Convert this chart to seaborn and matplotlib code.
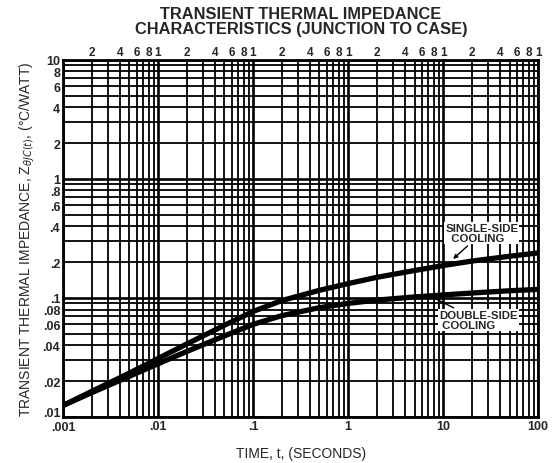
import numpy as np
import pandas as pd
import matplotlib
matplotlib.use("Agg")
import matplotlib.pyplot as plt
import matplotlib.transforms as mtransforms
from matplotlib.ticker import FixedLocator, FixedFormatter
import seaborn as sns

# ---- data ----
time_s = [0.001, 0.002, 0.005, 0.01, 0.02, 0.05, 0.1, 0.2, 0.5, 1, 2, 5, 10, 20, 50, 100]
single_side = [0.0125, 0.0164, 0.0234, 0.031, 0.041, 0.059, 0.077, 0.095, 0.116, 0.132, 0.149, 0.170, 0.187, 0.204, 0.224, 0.239]
double_side = [0.0125, 0.0160, 0.0220, 0.028, 0.0355, 0.048, 0.060, 0.071, 0.083, 0.090, 0.096, 0.102, 0.106, 0.110, 0.115, 0.118]

x_bottom_ticks = [0.001, 0.01, 0.1, 1, 10, 100]
x_bottom_labels = [".001", ".01", ".1", "1", "10", "100"]
y_ticks = [0.01, 0.02, 0.04, 0.06, 0.08, 0.1, 0.2, 0.4, 0.6, 0.8, 1, 2, 4, 6, 8, 10]
y_labels = [".01", ".02", ".04", ".06", ".08", ".1", ".2", ".4", ".6", ".8", "1", "2", "4", "6", "8", "10"]

df = pd.DataFrame({
    "t": time_s * 2,
    "z": single_side + double_side,
    "cooling": ["single"] * len(time_s) + ["double"] * len(time_s),
})

sns.set_style("white")
plt.rcParams['font.family'] = ['Liberation Sans', 'DejaVu Sans']

fig = plt.figure(figsize=(5.52, 4.64), dpi=100)
ax = fig.add_axes([0.114, 0.099, 0.861, 0.770])

ax.set_xscale("log")
ax.set_yscale("log")
ax.set_xlim(0.001, 100)
ax.set_ylim(0.01, 10)

# grid: all decades with minors 2..9
decades_x = [0.001, 0.01, 0.1, 1, 10]
xminor = [d * k for d in decades_x for k in range(2, 10)]
decades_y = [0.01, 0.1, 1]
yminor = [d * k for d in decades_y for k in range(2, 10)]

for v in xminor:
    ax.axvline(v, color="black", lw=1.3, zorder=1)
for v in x_bottom_ticks:
    ax.axvline(v, color="black", lw=1.9, zorder=1)
for v in yminor:
    ax.axhline(v, color="black", lw=1.3, zorder=1)
for v in [0.01, 0.1, 1, 10]:
    ax.axhline(v, color="black", lw=1.9, zorder=1)

sns.lineplot(data=df, x="t", y="z", hue="cooling", palette={"single": "black", "double": "black"},
             lw=3.8, legend=False, ax=ax, zorder=3)

for s in ax.spines.values():
    s.set_color("black")
    s.set_linewidth(2.0)

ax.xaxis.set_major_locator(FixedLocator(x_bottom_ticks))
ax.xaxis.set_major_formatter(FixedFormatter(x_bottom_labels))
ax.xaxis.set_minor_locator(FixedLocator([]))
ax.yaxis.set_major_locator(FixedLocator(y_ticks))
ax.yaxis.set_major_formatter(FixedFormatter(y_labels))
ax.yaxis.set_minor_locator(FixedLocator([]))
ax.tick_params(axis="both", length=0, labelsize=9, pad=2)
for lab in ax.get_xticklabels() + ax.get_yticklabels():
    lab.set_fontweight("bold")
# lift ".01" a bit so it does not sit on ".001"
first_y = ax.get_yticklabels()[0]
first_y.set_transform(first_y.get_transform() + mtransforms.ScaledTranslation(0, 4 / 72, fig.dpi_scale_trans))
first_x = ax.get_xticklabels()[0]
first_x.set_transform(first_x.get_transform() + mtransforms.ScaledTranslation(0, -1 / 72, fig.dpi_scale_trans))

# top labels 2 4 6 8 1
top_ticks = []
top_labels = []
for d in decades_x:
    for k in (2, 4, 6, 8):
        top_ticks.append(d * k)
        top_labels.append(str(k))
    top_ticks.append(d * 10)
    top_labels.append("1")
ax2 = ax.secondary_xaxis("top")
ax2.xaxis.set_major_locator(FixedLocator(top_ticks))
ax2.xaxis.set_major_formatter(FixedFormatter(top_labels))
ax2.xaxis.set_minor_locator(FixedLocator([]))
ax2.tick_params(length=0, labelsize=8.5, pad=1)
for lab in ax2.get_xticklabels():
    lab.set_fontweight("bold")

ax.set_xlabel("TIME, t, (SECONDS)", fontsize=10, labelpad=9)
ax.set_ylabel(r"TRANSIENT THERMAL IMPEDANCE, Z$_{\theta JC(t)}$, (°C/WATT)", fontsize=10, labelpad=4)

fig.suptitle("TRANSIENT THERMAL IMPEDANCE\nCHARACTERISTICS (JUNCTION TO CASE)",
             x=0.545, y=0.985, fontsize=11.8, fontweight="bold", linespacing=1.0)

bbox = dict(boxstyle="square,pad=0.1", fc="white", ec="none")
ax.annotate("SINGLE-SIDE\n  COOLING", xy=(12.1, 0.205), xytext=(10.5, 0.29),
            fontsize=8.2, fontweight="bold", ha="left", va="bottom", bbox=bbox, zorder=5,
            linespacing=0.95,
            arrowprops=dict(arrowstyle="-|>", color="black", lw=1, mutation_scale=6))
ax.annotate("DOUBLE-SIDE\n COOLING", xy=(6.9, 0.106), xytext=(9.0, 0.054),
            fontsize=8.2, fontweight="bold", ha="left", va="bottom", bbox=bbox, zorder=5,
            linespacing=0.95,
            arrowprops=dict(arrowstyle="-|>", color="black", lw=1, mutation_scale=6))

fig.savefig("out.png", dpi=100)
